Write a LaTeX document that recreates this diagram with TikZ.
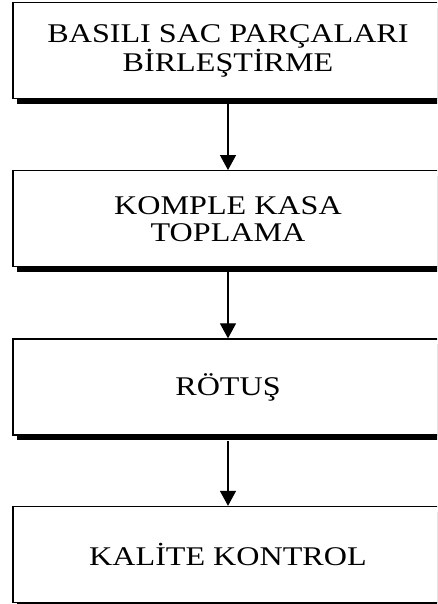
\documentclass[tikz,border=0pt]{standalone}
\usepackage{fontspec}
\setmainfont{Liberation Serif}
\newfontfamily\boxfont[FakeStretch=1.19]{Liberation Serif}
\usetikzlibrary{arrows.meta,shadows}
\begin{document}
\begin{tikzpicture}[x=1pt,y=-1pt,
  stepbox/.style={draw=black, line width=1.3pt, fill=white, minimum width=430pt, minimum height=96pt,
    inner sep=0pt, align=center, font=\boxfont\fontsize{27}{27}\selectfont,
    drop shadow={shadow xshift=4pt, shadow yshift=-5pt, fill=black, opacity=1}},
  arr/.style={line width=1.2pt, -{Triangle[width=16pt,length=15pt]}}]
\useasboundingbox (0,0) rectangle (437,604);
\clip (0,0) rectangle (437,604);
\node[stepbox] (b1) at (228,50.6) {BASILI SAC PARÇALARI\\BİRLEŞTİRME};
\node[stepbox] (b2) at (228,218.7) {KOMPLE KASA\\TOPLAMA};
\node[stepbox] (b3) at (228,387) {RÖTUŞ};
\node[stepbox] (b4) at (228,554.5) {KALİTE KONTROL};
\draw[arr] ([yshift=-5pt]b1.south) -- (b2.north);
\draw[arr] ([yshift=-5pt]b2.south) -- (b3.north);
\draw[arr] ([yshift=-5pt]b3.south) -- (b4.north);
\end{tikzpicture}
\end{document}
